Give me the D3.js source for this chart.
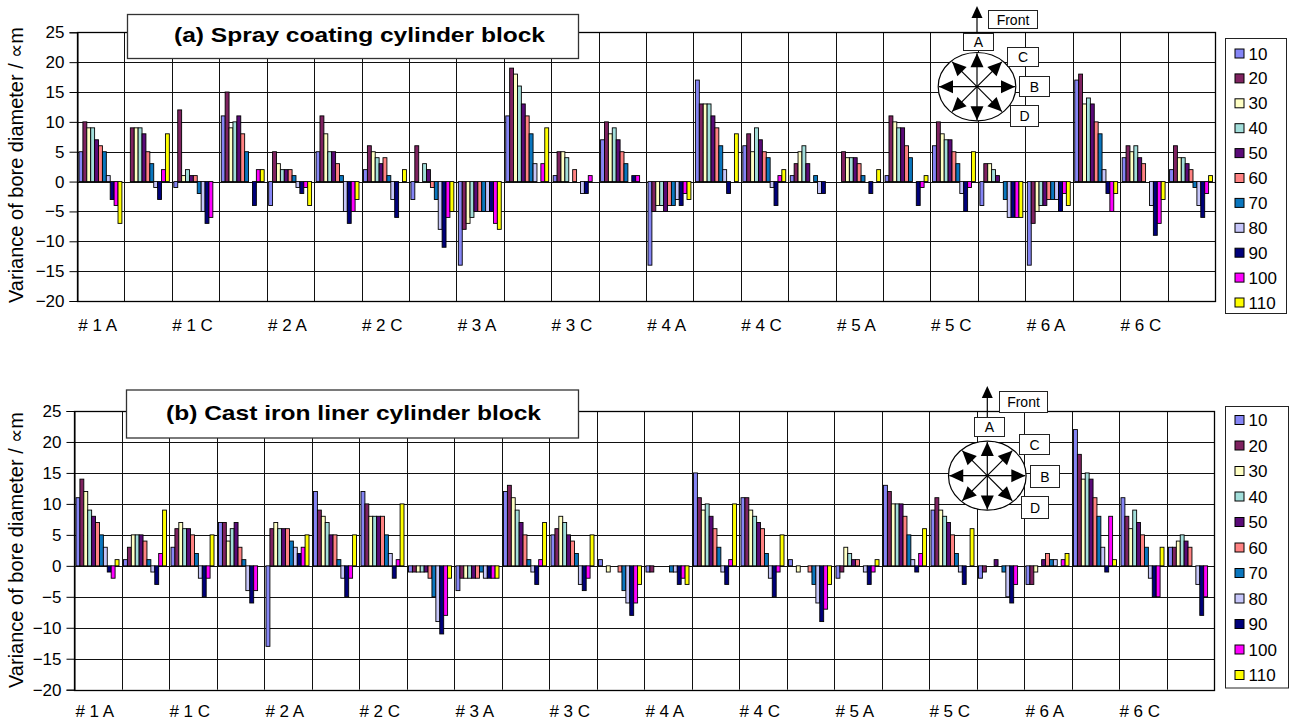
<!DOCTYPE html>
<html><head><meta charset="utf-8">
<script src="https://cdn.jsdelivr.net/npm/d3@7/dist/d3.min.js"></script>
<style>
body{margin:0;background:#fff}
svg{display:block}
text{font-family:"Liberation Sans",Arial,Helvetica,sans-serif;fill:#000}
</style>
</head><body>
<svg id="chart" width="1292" height="720"></svg>
<script>
// ---------------- data ----------------
const categories = [
  "# 1 A","# 1 B","# 1 C","# 1 D",
  "# 2 A","# 2 B","# 2 C","# 2 D",
  "# 3 A","# 3 B","# 3 C","# 3 D",
  "# 4 A","# 4 B","# 4 C","# 4 D",
  "# 5 A","# 5 B","# 5 C","# 5 D",
  "# 6 A","# 6 B","# 6 C","# 6 D"
];
const seriesNames = ["10","20","30","40","50","60","70","80","90","100","110"];
const seriesColors = ["#8585F5","#7F2260","#FFFFC4","#A2DEDA","#5A0A78","#FF8282",
                      "#0A76BE","#C6C6FA","#00007A","#FF00FF","#FFFF00"];
const yTicks = [-20,-15,-10,-5,0,5,10,15,20,25];
const labelledCategories = ["# 1 A","# 1 C","# 2 A","# 2 C","# 3 A","# 3 C",
                            "# 4 A","# 4 C","# 5 A","# 5 C","# 6 A","# 6 C"];

// (a) Spray coating cylinder block: one row per category, values for series 10..110
const sprayCoating = [
  [5,10,9,9,7,6,5,1,-3,-4,-7],
  [0,9,9,9,8,5,3,-1,-3,2,8],
  [-1,12,1,2,1,1,-2,-5,-7,-6,0],
  [11,15,9,10,11,8,5,0,-4,2,2],
  [-4,5,3,2,2,2,1,-1,-2,-1,-4],
  [5,11,8,5,5,3,1,-5,-7,-5,-3],
  [2,6,5,4,3,4,1,-3,-6,0,2],
  [-3,6,0,3,2,-1,-3,-8,-11,-6,-5],
  [-14,-8,-7,-6,-5,-5,-5,-5,-5,-7,-8],
  [11,19,18,16,13,11,8,3,0,3,9],
  [1,5,5,4,0,2,0,-2,-2,1,0],
  [7,10,8,9,7,5,3,0,1,1,0],
  [-14,-5,-4,-4,-5,-4,-4,-3,-4,-2,-3],
  [17,13,13,13,11,9,6,2,-2,0,8],
  [6,8,5,9,7,5,4,-1,-4,1,2],
  [1,3,5,6,3,0,1,-2,-2,0,0],
  [0,5,4,4,4,3,1,0,-2,0,2],
  [1,11,10,9,9,6,4,0,-4,-1,1],
  [6,10,8,7,7,5,3,-2,-5,-1,5],
  [-4,3,3,2,1,0,-3,-6,-6,-6,-6],
  [-14,-7,-5,-4,-4,-3,-3,-3,-5,-2,-4],
  [17,18,13,14,13,10,8,2,-2,-5,-2],
  [4,6,5,6,4,3,0,-4,-9,-7,-3],
  [2,6,4,4,3,2,-1,-4,-6,-2,1]
];

// (b) Cast iron liner cylinder block
const castIronLiner = [
  [11,14,12,9,8,7,5,3,-1,-2,1],
  [1,3,5,5,5,4,1,-1,-3,2,9],
  [3,6,7,6,6,5,2,-2,-5,-2,5],
  [7,7,4,6,7,3,1,-4,-6,-4,0],
  [-13,6,7,6,6,6,4,3,2,3,5],
  [12,9,8,7,5,5,1,-2,-5,-2,5],
  [12,10,8,8,8,8,5,2,-2,1,10],
  [-1,-1,-1,-1,-1,-2,-5,-9,-11,-8,-2],
  [-4,-2,-2,-2,-2,-2,-1,-2,-2,-2,-2],
  [12,13,11,9,7,5,1,-1,-3,1,7],
  [5,6,8,7,5,4,2,-3,-4,-2,5],
  [1,0,-1,0,0,-1,-4,-6,-8,-6,-3],
  [-1,-1,0,0,0,0,-1,-1,-3,-2,-3],
  [15,11,9,10,8,6,3,-1,-3,1,10],
  [11,11,9,8,7,6,2,-2,-5,-1,5],
  [1,0,-1,0,0,-1,-3,-6,-9,-7,-3],
  [-2,-1,3,2,1,1,0,-1,-3,-1,1],
  [13,12,10,10,10,8,5,1,-1,2,6],
  [9,11,9,8,7,5,2,-1,-3,0,6],
  [-2,-1,0,0,1,0,-1,-5,-6,-3,0],
  [-3,-3,-1,0,1,2,1,1,0,1,2],
  [22,18,14,15,14,11,8,3,-1,8,1],
  [11,8,6,9,7,5,3,-2,-5,-5,3],
  [3,3,4,5,4,3,0,-3,-8,-5,0]
];

// ---------------- layout ----------------
const panels = [
  {
    data: sprayCoating,
    title: "(a) Spray coating cylinder block",
    yLabel: "Variance of bore diameter / \u221Dm",
    left: 77, right: 1215, top: 32.3, bottom: 301,
    titleBox: {x: 127, y: 14, w: 451, h: 44},
    titleX: 174, titleBase: 42, titleLen: 371,
    catLabelY: 331,
    yLabelX: 23, yLabelY: 165,
    legend: {x: 1225.5, y: 38.5, w: 61, h: 275, first: 53.5, step: 24.9},
    diag: {cx: 977, cy: 86.7, rx: 38.8, ry: 34.2, frontTip: 6,
      boxes: [
        {t: "Front", x: 988.5, y: 10.5, w: 49, h: 18},
        {t: "A", x: 963.5, y: 33.5, w: 30, h: 17},
        {t: "C", x: 1007.5, y: 47.5, w: 31, h: 19},
        {t: "B", x: 1019.5, y: 76.5, w: 30, h: 20},
        {t: "D", x: 1010.5, y: 105.5, w: 28, h: 21}
      ]}
  },
  {
    data: castIronLiner,
    title: "(b) Cast iron liner cylinder block",
    yLabel: "Variance of bore diameter  / \u221Dm",
    left: 74, right: 1214, top: 411, bottom: 689.7,
    titleBox: {x: 126, y: 389.5, w: 452, h: 48},
    titleX: 166, titleBase: 420, titleLen: 375,
    catLabelY: 717,
    yLabelX: 23, yLabelY: 550,
    legend: {x: 1225.5, y: 406.5, w: 63, h: 281.5, first: 420, step: 25.5},
    diag: {cx: 987.3, cy: 475.7, rx: 38.8, ry: 34.5, frontTip: 386,
      boxes: [
        {t: "Front", x: 999.5, y: 391.5, w: 48, h: 21},
        {t: "A", x: 974.5, y: 417.5, w: 30, h: 19},
        {t: "C", x: 1019.5, y: 434.5, w: 30, h: 20},
        {t: "B", x: 1030.5, y: 465.5, w: 29, h: 22},
        {t: "D", x: 1021.5, y: 496.5, w: 27, h: 22}
      ]}
  }
];

const svg = d3.select("#chart");
const defs = svg.append("defs");

function drawPanel(p) {
  const g = svg.append("g");
  const x0 = d3.scaleBand().domain(categories).range([p.left, p.right]).padding(0);
  const x1 = d3.scaleBand().domain(seriesNames).range([2, x0.bandwidth() - 2.5]).padding(0);
  const y = d3.scaleLinear().domain([-20, 25]).range([p.bottom, p.top]);
  const color = d3.scaleOrdinal().domain(seriesNames).range(seriesColors);

  // horizontal gridlines
  g.append("g").selectAll("line").data(yTicks).join("line")
    .attr("x1", p.left).attr("x2", p.right)
    .attr("y1", d => Math.round(y(d)) + 0.5).attr("y2", d => Math.round(y(d)) + 0.5)
    .attr("stroke", "#111").attr("stroke-width", 1);
  // vertical gridlines at category boundaries
  g.append("g").selectAll("line").data(categories).join("line")
    .attr("x1", d => Math.round(x0(d) + x0.bandwidth()) + 0.5)
    .attr("x2", d => Math.round(x0(d) + x0.bandwidth()) + 0.5)
    .attr("y1", p.top).attr("y2", p.bottom)
    .attr("stroke", "#111").attr("stroke-width", 1);

  // y axis
  const yAxis = d3.axisLeft(y).tickValues(yTicks).tickSize(8).tickPadding(5).tickFormat(d3.format("d"));
  const ya = g.append("g").attr("transform", `translate(${Math.round(p.left) + 0.5},0)`).call(yAxis);
  ya.select(".domain").attr("stroke", "#000");
  ya.selectAll(".tick line").attr("stroke", "#000");
  ya.selectAll(".tick text").attr("font-size", 17).attr("font-family", "Liberation Sans, Arial, sans-serif");

  // x axis (labels only for A and C positions)
  const xAxis = d3.axisBottom(x0).tickSize(0).tickPadding(0)
    .tickFormat(d => labelledCategories.includes(d) ? d : "");
  const xa = g.append("g").attr("transform", `translate(0,${p.bottom})`).call(xAxis);
  xa.select(".domain").remove();
  xa.selectAll(".tick text").attr("font-size", 17)
    .attr("font-family", "Liberation Sans, Arial, sans-serif")
    .attr("y", p.catLabelY - p.bottom).attr("dy", 0).attr("dx", -3);

  // bars
  const rows = categories.map((c, i) => ({cat: c, vals: p.data[i]}));
  const cg = g.append("g").selectAll("g").data(rows).join("g")
    .attr("transform", d => `translate(${x0(d.cat)},0)`);
  cg.selectAll("rect")
    .data(d => d.vals.map((v, j) => ({s: seriesNames[j], v})).filter(e => e.v !== 0))
    .join("rect")
    .attr("x", d => x1(d.s))
    .attr("width", x1.bandwidth())
    .attr("y", d => y(Math.max(0, d.v)))
    .attr("height", d => Math.abs(y(d.v) - y(0)))
    .attr("fill", d => color(d.s))
    .attr("stroke", "#000").attr("stroke-width", 0.9);

  // plot border
  g.append("rect").attr("x", Math.round(p.left) + 0.5).attr("y", Math.round(p.top) + 0.5)
    .attr("width", Math.round(p.right) - Math.round(p.left))
    .attr("height", Math.round(p.bottom) - Math.round(p.top))
    .attr("fill", "none").attr("stroke", "#000").attr("stroke-width", 1.3);

  // y axis title
  g.append("text")
    .attr("transform", `translate(${p.yLabelX},${p.yLabelY}) rotate(-90)`)
    .attr("text-anchor", "middle").attr("font-size", 20)
    .text(p.yLabel);

  // title box
  const tb = p.titleBox;
  g.append("rect").attr("x", tb.x + 0.5).attr("y", tb.y + 0.5).attr("width", tb.w).attr("height", tb.h)
    .attr("fill", "#fff").attr("stroke", "#333").attr("stroke-width", 1.3);
  g.append("text").attr("x", p.titleX).attr("y", p.titleBase)
    .attr("font-size", 21).attr("font-weight", "bold")
    .attr("textLength", p.titleLen).attr("lengthAdjust", "spacingAndGlyphs")
    .text(p.title);

  // legend
  const L = p.legend;
  g.append("rect").attr("x", L.x).attr("y", L.y).attr("width", L.w).attr("height", L.h)
    .attr("fill", "#fff").attr("stroke", "#222").attr("stroke-width", 1);
  const li = g.append("g").selectAll("g").data(seriesNames).join("g")
    .attr("transform", (d, i) => `translate(${L.x + 9},${L.first + i * L.step})`);
  li.append("rect").attr("x", 0.5).attr("y", -4.5).attr("width", 9).attr("height", 9)
    .attr("fill", d => color(d)).attr("stroke", "#000").attr("stroke-width", 1);
  li.append("text").attr("x", 14).attr("y", 6).attr("font-size", 17).text(d => d);

  // orientation diagram
  drawDiagram(g, p.diag);
}

function arrowHead(g, tx, ty, ang, len, wid) {
  // triangle with tip at (tx,ty) pointing in direction ang
  const bx = tx - len * Math.cos(ang), by = ty - len * Math.sin(ang);
  const px = -Math.sin(ang) * wid / 2, py = Math.cos(ang) * wid / 2;
  g.append("path")
    .attr("d", `M${tx},${ty}L${bx + px},${by + py}L${bx - px},${by - py}Z`)
    .attr("fill", "#000");
}

function drawDiagram(g, d) {
  const dg = g.append("g");
  // front arrow
  dg.append("line").attr("x1", d.cx).attr("x2", d.cx)
    .attr("y1", d.boxes[1].y).attr("y2", d.frontTip + 8)
    .attr("stroke", "#000").attr("stroke-width", 1.2);
  arrowHead(dg, d.cx, d.frontTip, -Math.PI / 2, 12, 11);
  // ellipse
  dg.append("ellipse").attr("cx", d.cx).attr("cy", d.cy).attr("rx", d.rx).attr("ry", d.ry)
    .attr("fill", "#fff").attr("stroke", "#000").attr("stroke-width", 1.2);
  // 8 arrows
  const angs = [0, 45, 90, 135, 180, 225, 270, 315].map(a => a * Math.PI / 180);
  angs.forEach(a => {
    const c = Math.cos(a), s = Math.sin(a);
    // point on ellipse
    const r = 1 / Math.sqrt((c * c) / (d.rx * d.rx) + (s * s) / (d.ry * d.ry));
    const tx = d.cx + r * c * (Math.abs(c) > 0.01 && Math.abs(s) > 0.01 ? 0.97 : 0.98);
    const ty = d.cy + r * s * (Math.abs(c) > 0.01 && Math.abs(s) > 0.01 ? 0.97 : 0.98);
    dg.append("line").attr("x1", d.cx).attr("y1", d.cy).attr("x2", tx).attr("y2", ty)
      .attr("stroke", "#000").attr("stroke-width", 1.2);
    arrowHead(dg, tx, ty, Math.atan2(ty - d.cy, tx - d.cx), 14, 13);
  });
  // boxes
  d.boxes.forEach(b => {
    dg.append("rect").attr("x", b.x).attr("y", b.y).attr("width", b.w).attr("height", b.h)
      .attr("fill", "#fff").attr("stroke", "#222").attr("stroke-width", 1);
    dg.append("text").attr("x", b.x + b.w / 2).attr("y", b.y + b.h / 2 + 5)
      .attr("text-anchor", "middle").attr("font-size", 14).text(b.t);
  });
}

panels.forEach(drawPanel);
</script>
</body></html>
